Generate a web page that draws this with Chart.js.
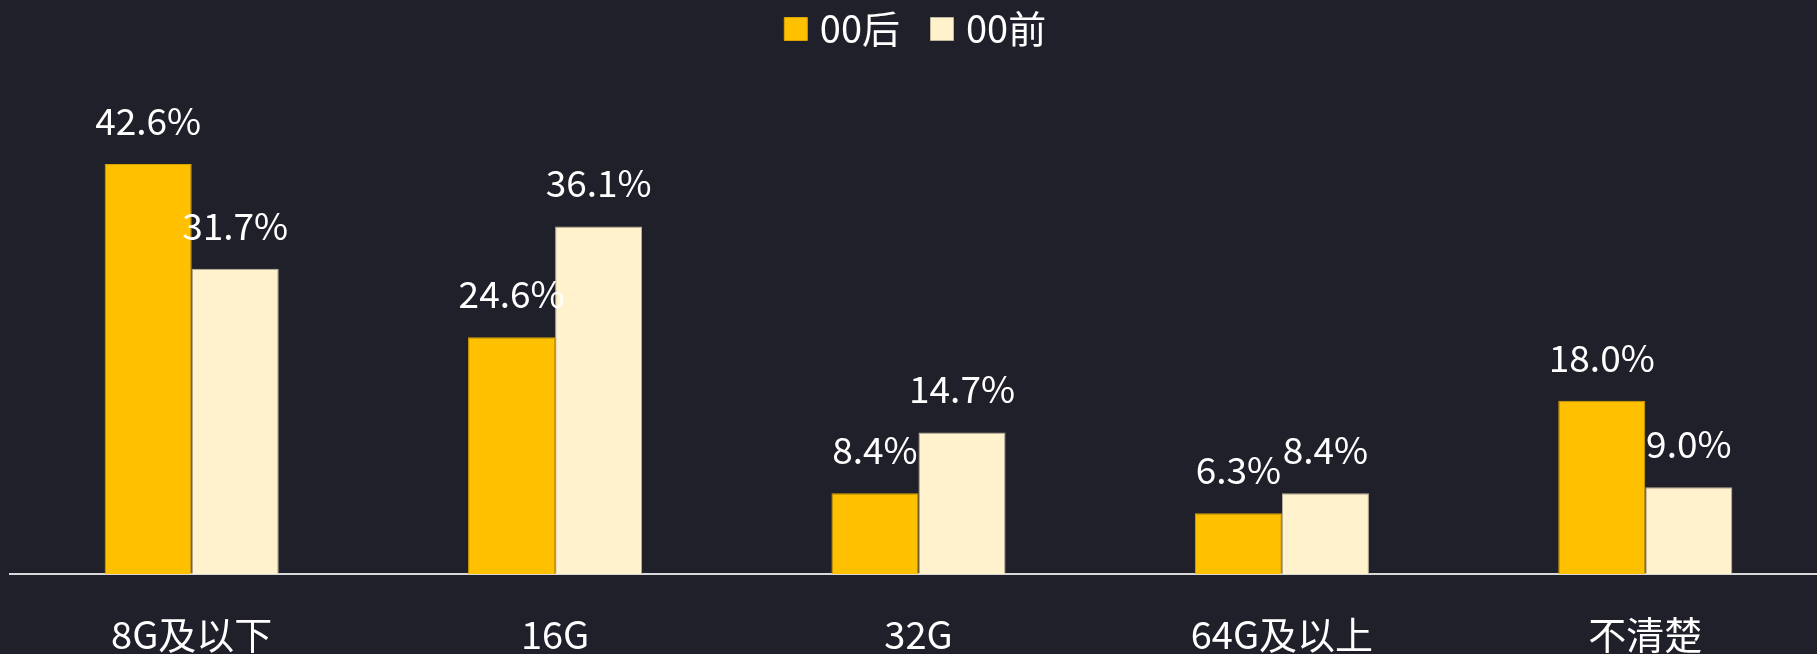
<!DOCTYPE html>
<html>
<head>
<meta charset="utf-8">
<script src="https://cdn.jsdelivr.net/npm/chart.js@4"></script>
<style>
  html, body { margin: 0; padding: 0; background: #20202b; overflow: hidden; }
  #wrap { width: 1827px; height: 654px; }
</style>
</head>
<body>
<div id="wrap"><canvas id="grafico"></canvas></div>
<script>
const categorias = ["8G及以下", "16G", "32G", "64G及以上", "不清楚"];
const valores00hou = [42.6, 24.6, 8.4, 6.3, 18.0];
const valores00qian = [31.7, 36.1, 14.7, 8.4, 9.0];
const nomesSeries = ["00后", "00前"];

const fonte = "'Noto Sans CJK SC', 'Noto Sans', sans-serif";

// rotulos de valor em cima de cada barra
const rotulos = {
  id: "rotulos",
  afterDatasetsDraw(chart) {
    const ctx = chart.ctx;
    ctx.save();
    ctx.fillStyle = "#ffffff";
    ctx.font = "37px " + fonte;
    ctx.textAlign = "center";
    ctx.textBaseline = "alphabetic";
    chart.data.datasets.forEach((ds, i) => {
      const meta = chart.getDatasetMeta(i);
      meta.data.forEach((bar, j) => {
        ctx.fillText(ds.data[j].toFixed(1) + "%", bar.x, bar.y - 29);
      });
    });
    ctx.restore();
  },
};

new Chart(document.getElementById("grafico"), {
  type: "bar",
  data: {
    labels: categorias,
    datasets: [
      {
        label: nomesSeries[0],
        data: valores00hou,
        backgroundColor: "#ffc000",
        borderColor: "#d9a300",
        borderWidth: 1,
      },
      {
        label: nomesSeries[1],
        data: valores00qian,
        backgroundColor: "#fff2cc",
        borderColor: "#bdb59c",
        borderWidth: 1,
      },
    ],
  },
  options: {
    responsive: true,
    maintainAspectRatio: false,
    animation: false,
    devicePixelRatio: 1,
    categoryPercentage: 0.479,
    barPercentage: 1,
    layout: { padding: { left: 10, right: 0, top: -27, bottom: -34 } },
    plugins: {
      tooltip: { enabled: false },
      legend: {
        position: "top",
        labels: {
          color: "#ffffff",
          font: { family: fonte, size: 38 },
          usePointStyle: true,
          pointStyle: "rect",
          boxWidth: 10,
          boxHeight: 23,
          padding: 37,
        },
      },
    },
    scales: {
      x: {
        grid: { display: false },
        border: { color: "#d9d9d9", width: 2 },
        ticks: {
          color: "#ffffff",
          padding: 34,
          font: { family: fonte, size: 38, lineHeight: 1 },
        },
      },
      y: {
        display: false,
        min: 0,
        max: 53.6,
      },
    },
  },
  plugins: [rotulos],
});
</script>
</body>
</html>
